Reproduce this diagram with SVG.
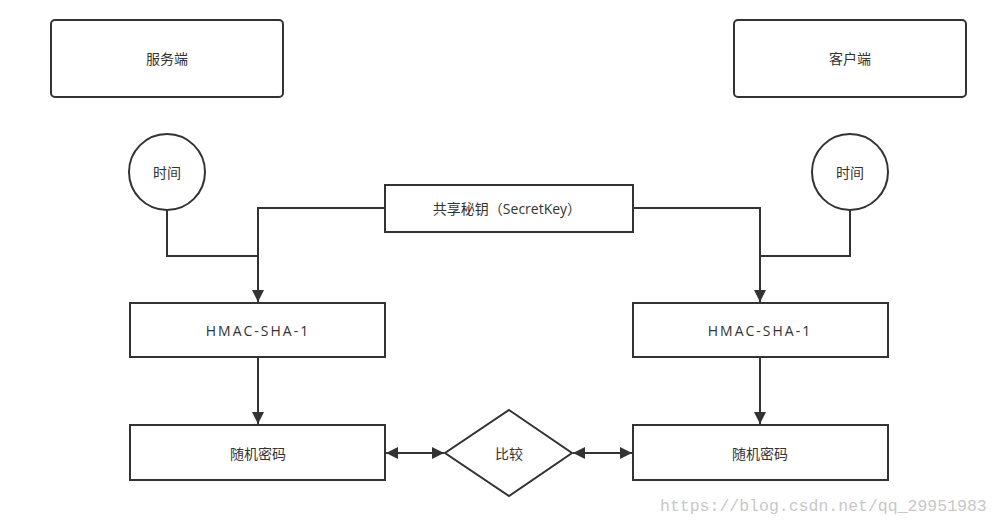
<svg xmlns="http://www.w3.org/2000/svg" width="1000" height="526" viewBox="0 0 1000 526">
<defs>
<style>
.box{fill:#fff;stroke:#333;stroke-width:2}
.t{font-family:"Open Sans","Noto Sans CJK SC",sans-serif;font-size:14px;fill:#333;text-anchor:middle;dominant-baseline:central}
.sp{letter-spacing:2px}
.c{fill:none;stroke:#333;stroke-width:2}
.wm{font-family:"Liberation Mono",monospace;font-size:16.5px;fill:#c8c8c8}
</style>
<marker id="ah" viewBox="0 0 10 10" refX="10" refY="5" markerWidth="6" markerHeight="6" orient="auto-start-reverse" markerUnits="strokeWidth">
<path d="M0,0 L10,5 L0,10 z" fill="#333"/>
</marker>
</defs>
<rect width="1000" height="526" fill="#fff"/>
<g id="connectors">
<path class="c" d="M167,210 V256 H258"/>
<path class="c" d="M385,208 H258 V302" marker-end="url(#ah)"/>
<path class="c" d="M850,210 V256 H760"/>
<path class="c" d="M633,208 H760 V302" marker-end="url(#ah)"/>
<path class="c" d="M258,357 V424" marker-end="url(#ah)"/>
<path class="c" d="M760,357 V424" marker-end="url(#ah)"/>
<path class="c" d="M386,453 H444" marker-start="url(#ah)" marker-end="url(#ah)"/>
<path class="c" d="M573,453 H632" marker-start="url(#ah)" marker-end="url(#ah)"/>
</g>
<g id="server"><rect class="box" x="51" y="20" width="232" height="77" rx="4"/><text class="t" x="167" y="58.5">服务端</text></g>
<g id="client"><rect class="box" x="734" y="20" width="232" height="77" rx="4"/><text class="t" x="850" y="58.5">客户端</text></g>
<g id="time-left"><circle class="box" cx="167" cy="172" r="38"/><text class="t" x="167" y="172">时间</text></g>
<g id="time-right"><circle class="box" cx="850" cy="172" r="38"/><text class="t" x="850" y="172">时间</text></g>
<g id="secret"><rect class="box" x="385" y="185" width="248" height="47"/><text class="t" x="507" y="208.5">共享秘钥（SecretKey）</text></g>
<g id="hmac-left"><rect class="box" x="130" y="303" width="255" height="54"/><text class="t sp" x="258" y="330">HMAC-SHA-1</text></g>
<g id="hmac-right"><rect class="box" x="633" y="303" width="255" height="54"/><text class="t sp" x="760" y="330">HMAC-SHA-1</text></g>
<g id="rand-left"><rect class="box" x="130" y="425" width="255" height="55"/><text class="t" x="258" y="453">随机密码</text></g>
<g id="rand-right"><rect class="box" x="633" y="425" width="255" height="55"/><text class="t" x="760" y="453">随机密码</text></g>
<g id="compare"><polygon class="box" points="509,410 572,453 509,496 445,453"/><text class="t" x="509" y="453">比较</text></g>
<text class="wm" x="660" y="511">https://blog.csdn.net/qq_29951983</text>
</svg>
